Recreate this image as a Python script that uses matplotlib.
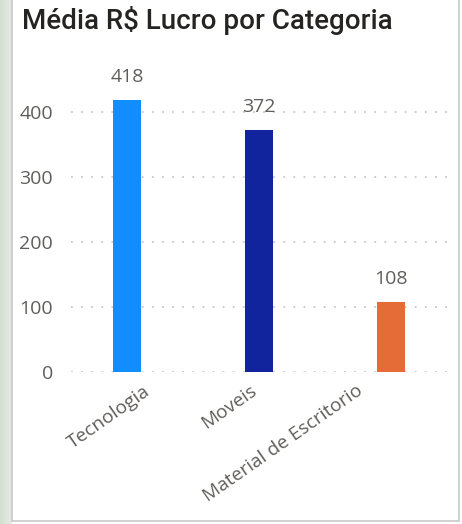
import matplotlib
matplotlib.use("Agg")
import matplotlib.pyplot as plt
import matplotlib.transforms as mtransforms
from matplotlib.patches import Rectangle
import numpy as np

categories = ["Tecnologia", "Moveis", "Material de Escritorio"]
values = [418, 372, 108]
colors = ["#118DFF", "#12239E", "#E66C37"]
yticks = [0, 100, 200, 300, 400]

W, H = 462, 524
fig = plt.figure(figsize=(W / 100, H / 100), dpi=100)
fig.patch.set_facecolor("white")

# outer background strip + card border
bg = fig.add_axes([0, 0, 1, 1], zorder=-10)
bg.set_xlim(0, W); bg.set_ylim(H, 0); bg.axis("off")
grad = np.linspace(0, 1, 12)[None, :]
bg.imshow(grad, extent=(0, 12, H, 0), aspect="auto",
          cmap=matplotlib.colors.LinearSegmentedColormap.from_list("g", ["#d3dfd0", "#e6ece4"]))
bg.add_patch(Rectangle((12, -2), 447, 523, facecolor="white", edgecolor="#c8c8c8", linewidth=1.2))
bg.set_xlim(0, W); bg.set_ylim(H, 0)

left, right = 71, 449
bottom_px, top_px = 372, 60
ax = fig.add_axes([left / W, (H - bottom_px) / H, (right - left) / W, (bottom_px - top_px) / H])
ax.set_facecolor("none")
x = np.arange(len(categories))
ax.bar(x, values, width=0.21, color=colors, zorder=3)
ax.set_xlim(-0.424, 2.439)
ax.set_ylim(0, (bottom_px - top_px) / 0.65)
ax.set_yticks(yticks)
for v in yticks:
    ax.axhline(v, color="#c8c8c8", linestyle=(0, (1, 4.6)), linewidth=1.3, zorder=1)
for s in ax.spines.values():
    s.set_visible(False)
ax.tick_params(axis="y", length=0, pad=13, labelsize=14, labelcolor="#605E5C")
ax.tick_params(axis="x", length=0)
for lab in ax.get_yticklabels():
    lab.set_fontfamily("Open Sans")

for xi, v in zip(x, values):
    ax.annotate(f"{v}", (xi, v), xytext=(0, 10), textcoords="offset points",
                ha="center", va="bottom", fontsize=14, color="#605E5C", family="Open Sans")

ax.set_xticks(x)
ax.set_xticklabels(categories, rotation=35, ha="right", rotation_mode="anchor",
                   fontsize=13.8, color="#605E5C", family="Open Sans")
for i, lab in enumerate(ax.get_xticklabels()):
    off = (16 - 25.5 * i) / 100.0
    lab.set_transform(lab.get_transform() + mtransforms.ScaledTranslation(off, -0.05, fig.dpi_scale_trans))

fig.text(22 / W, 1 - 6 / H, "Média R$ Lucro por Categoria", ha="left", va="top",
         fontsize=20, fontweight="medium", color="#252423", family="Roboto")

fig.savefig("out.png", dpi=100)
